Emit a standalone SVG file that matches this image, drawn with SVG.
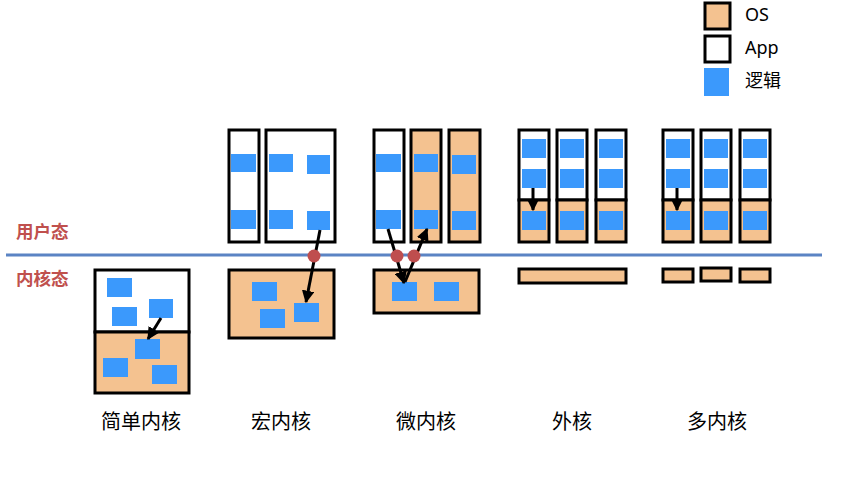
<svg xmlns="http://www.w3.org/2000/svg" width="845" height="485" viewBox="0 0 845 485">
<defs>
<style>
.box{stroke:#000;stroke-width:3;}
.app{fill:#fff;}
.os{fill:#F4C290;}
.blk{fill:#3B99FC;}
.cn{stroke:#000;stroke-width:3;fill:none;}
.dot{fill:#BF4E4E;}
.mode{font-family:"Noto Sans CJK SC","Noto Sans",sans-serif;font-size:17.5px;font-weight:bold;fill:#C0504D;}
.lab{font-family:"Noto Sans CJK SC","Noto Sans",sans-serif;font-size:20px;fill:#000;text-anchor:middle;}
.leg{font-family:"Noto Sans","Noto Sans CJK SC",sans-serif;font-size:18px;fill:#000;}
</style>
<marker id="ah" viewBox="0 0 10 10" refX="9" refY="5" markerWidth="4.2" markerHeight="4.2" orient="auto" markerUnits="strokeWidth">
<path d="M0,0 L10,5 L0,10 z" fill="#000"/>
</marker>
</defs>
<rect width="845" height="485" fill="#fff"/>

<g id="legend">
<rect class="box os" x="705" y="3" width="25" height="26"/>
<text class="leg" x="745" y="21">OS</text>
<rect class="box app" x="705" y="36" width="25" height="26"/>
<text class="leg" x="745" y="54">App</text>
<rect class="blk" x="704" y="68" width="25" height="28"/>
<text class="leg" x="745" y="87">逻辑</text>
</g>

<g id="modes">
<line x1="6" y1="255" x2="822" y2="255" stroke="#5B84C4" stroke-width="3"/>
<text class="mode" x="16" y="238">用户态</text>
<text class="mode" x="16" y="285">内核态</text>
</g>

<g id="simple">
<rect class="box app" x="95" y="270" width="94" height="62"/>
<rect class="box os" x="95" y="332" width="94" height="61"/>
<rect class="blk" x="107" y="278" width="25" height="19"/>
<rect class="blk" x="112" y="307" width="25" height="19"/>
<rect class="blk" x="149" y="299" width="24" height="19"/>
<rect class="blk" x="135" y="339" width="25" height="20"/>
<rect class="blk" x="103" y="358" width="25" height="19"/>
<rect class="blk" x="152" y="365" width="25" height="19"/>
<text class="lab" x="141" y="429">简单内核</text>
</g>

<g id="macro">
<rect class="box app" x="229" y="130" width="30" height="112"/>
<rect class="box app" x="266" y="130" width="69" height="112"/>
<rect class="blk" x="231" y="154" width="25" height="18"/>
<rect class="blk" x="231" y="210" width="25" height="19"/>
<rect class="blk" x="269" y="154" width="24" height="18"/>
<rect class="blk" x="307" y="155" width="23" height="19"/>
<rect class="blk" x="269" y="210" width="24" height="19"/>
<rect class="blk" x="307" y="211" width="23" height="19"/>
<rect class="box os" x="229" y="270" width="105" height="68"/>
<rect class="blk" x="252" y="282" width="25" height="19"/>
<rect class="blk" x="260" y="309" width="25" height="19"/>
<rect class="blk" x="294" y="303" width="25" height="19"/>
<text class="lab" x="281" y="429">宏内核</text>
</g>

<g id="micro">
<rect class="box app" x="374" y="130" width="30" height="112"/>
<rect class="box os" x="411" y="130" width="30" height="112"/>
<rect class="box os" x="449" y="130" width="31" height="112"/>
<rect class="blk" x="376" y="154" width="25" height="18"/>
<rect class="blk" x="376" y="210" width="25" height="19"/>
<rect class="blk" x="414" y="154" width="24" height="18"/>
<rect class="blk" x="414" y="210" width="24" height="19"/>
<rect class="blk" x="452" y="155" width="24" height="19"/>
<rect class="blk" x="452" y="211" width="24" height="19"/>
<rect class="box os" x="374" y="270" width="105" height="43"/>
<rect class="blk" x="392" y="282" width="25" height="19"/>
<rect class="blk" x="434" y="282" width="25" height="19"/>
<text class="lab" x="426" y="429">微内核</text>
</g>

<g id="exo">
<rect class="box app" x="519" y="130" width="30" height="70"/>
<rect class="box os" x="519" y="200" width="30" height="42"/>
<rect class="box app" x="557" y="130" width="30" height="70"/>
<rect class="box os" x="557" y="200" width="30" height="42"/>
<rect class="box app" x="596" y="130" width="30" height="70"/>
<rect class="box os" x="596" y="200" width="30" height="42"/>
<rect class="blk" x="522" y="139" width="24" height="19"/>
<rect class="blk" x="522" y="169" width="24" height="19"/>
<rect class="blk" x="522" y="211" width="24" height="19"/>
<rect class="blk" x="560" y="139" width="24" height="19"/>
<rect class="blk" x="560" y="169" width="24" height="19"/>
<rect class="blk" x="560" y="211" width="24" height="19"/>
<rect class="blk" x="599" y="139" width="24" height="19"/>
<rect class="blk" x="599" y="169" width="24" height="19"/>
<rect class="blk" x="599" y="211" width="24" height="19"/>
<rect class="box os" x="519" y="269" width="107" height="14"/>
<text class="lab" x="572" y="429">外核</text>
</g>

<g id="multi">
<rect class="box app" x="663" y="130" width="30" height="70"/>
<rect class="box os" x="663" y="200" width="30" height="42"/>
<rect class="box app" x="701" y="130" width="30" height="70"/>
<rect class="box os" x="701" y="200" width="30" height="42"/>
<rect class="box app" x="740" y="130" width="30" height="70"/>
<rect class="box os" x="740" y="200" width="30" height="42"/>
<rect class="blk" x="666" y="139" width="24" height="19"/>
<rect class="blk" x="666" y="169" width="24" height="19"/>
<rect class="blk" x="666" y="211" width="24" height="19"/>
<rect class="blk" x="704" y="139" width="24" height="19"/>
<rect class="blk" x="704" y="169" width="24" height="19"/>
<rect class="blk" x="704" y="211" width="24" height="19"/>
<rect class="blk" x="743" y="139" width="24" height="19"/>
<rect class="blk" x="743" y="169" width="24" height="19"/>
<rect class="blk" x="743" y="211" width="24" height="19"/>
<rect class="box os" x="663" y="269" width="30" height="13"/>
<rect class="box os" x="701" y="268" width="30" height="13"/>
<rect class="box os" x="740" y="269" width="30" height="13"/>
<text class="lab" x="717" y="429">多内核</text>
</g>

<g id="connectors">
<line class="cn" x1="161" y1="318" x2="148" y2="339" marker-end="url(#ah)"/>
<line class="cn" x1="320" y1="230" x2="306" y2="302" marker-end="url(#ah)"/>
<circle class="dot" cx="314" cy="256" r="6.5"/>
<line class="cn" x1="388" y1="229" x2="404" y2="283" marker-end="url(#ah)"/>
<line class="cn" x1="405" y1="282" x2="427" y2="229" marker-end="url(#ah)"/>
<circle class="dot" cx="397" cy="256" r="6.5"/>
<circle class="dot" cx="414" cy="256" r="6.5"/>
<line class="cn" x1="533" y1="188" x2="533" y2="210" marker-end="url(#ah)"/>
<line class="cn" x1="677" y1="188" x2="677" y2="210" marker-end="url(#ah)"/>
</g>
</svg>
